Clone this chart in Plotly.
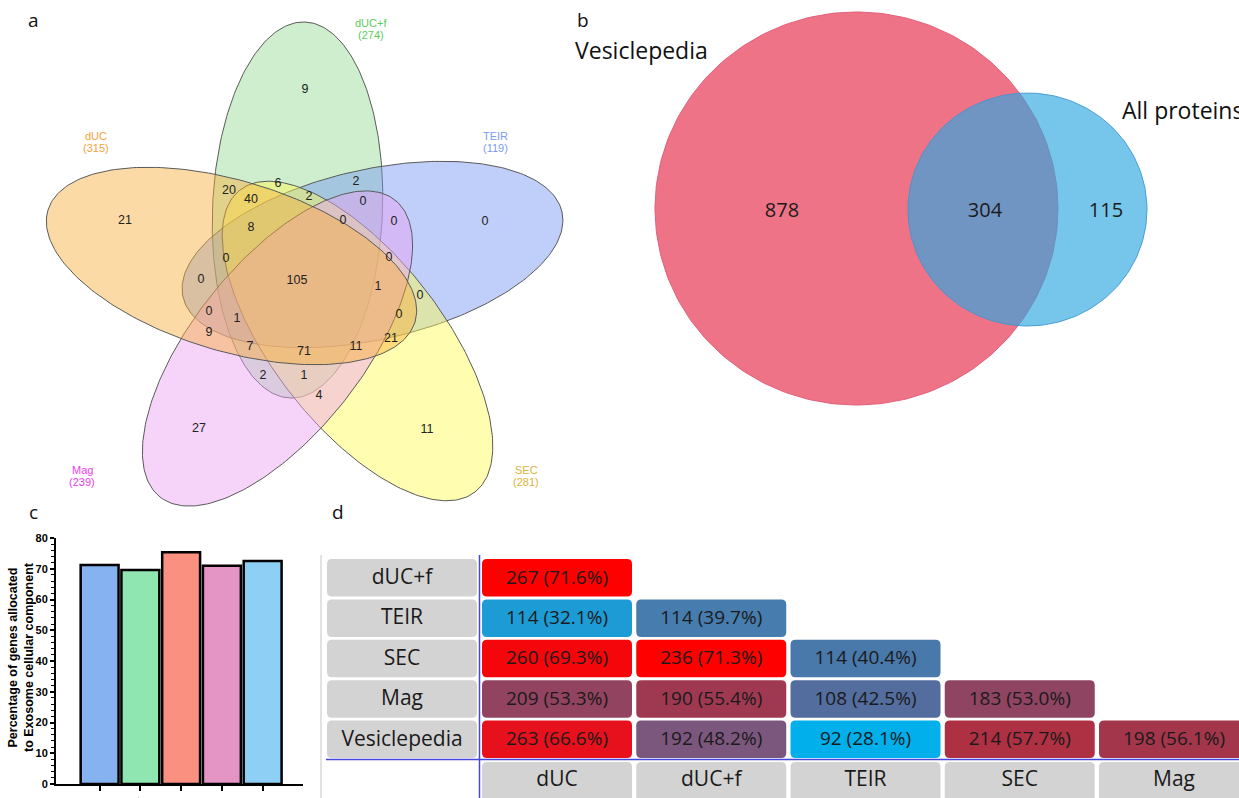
import numpy as np
import plotly.graph_objects as go
from plotly.colors import sample_colorscale

# ---------------- DATA ----------------
# Panel a: five-set Venn
venn_sets = ["dUC", "dUC+f", "TEIR", "SEC", "Mag"]
venn_totals = [315, 274, 119, 281, 239]
venn_region_counts = [9, 21, 0, 27, 11,
                      20, 6, 2, 40, 2, 0, 8, 0, 0, 0, 105, 0, 1, 0,
                      0, 0, 1, 0, 9, 7, 71, 11, 21, 2, 1, 4]

# Panel b: two-set Venn
b_sets = ["Vesiclepedia", "All proteins"]
b_counts = [878, 304, 115]   # only Vesiclepedia, both, only All proteins

# Panel c: bar chart
c_categories = ["dUC", "dUC+f", "TEIR", "SEC", "Mag"]
c_values = [71.2, 69.6, 75.4, 71.0, 72.5]

# Panel d: pairwise overlap table
d_rows = ["dUC+f", "TEIR", "SEC", "Mag", "Vesiclepedia"]
d_cols = ["dUC", "dUC+f", "TEIR", "SEC", "Mag"]
d_counts = [[267],
            [114, 114],
            [260, 236, 114],
            [209, 190, 108, 183],
            [263, 192, 92, 214, 198]]
d_pcts = [[71.6],
          [32.1, 39.7],
          [69.3, 71.3, 40.4],
          [53.3, 55.4, 42.5, 53.0],
          [66.6, 48.2, 28.1, 57.7, 56.1]]

# ---------------- STYLE / LAYOUT ----------------
W, H = 1239, 798
ARIAL = "Liberation Sans, Arial, sans-serif"
SANS = "Open Sans, Noto Sans, sans-serif"

# ellipse geometry (far tip, near tip) in pixel coords, semi-minor axis
venn_geom = {
    "dUC":   ((48, 210), (415, 322)),
    "dUC+f": ((305, 22), (290, 398)),
    "TEIR":  ((562, 212), (183, 297)),
    "SEC":   ((475, 492), (240, 190)),
    "Mag":   ((160, 497), (395, 200)),
}
venn_b = 85
venn_fill = {"dUC": "rgba(248,173,55,0.45)", "dUC+f": "rgba(146,217,146,0.45)",
             "TEIR": "rgba(115,148,244,0.45)", "SEC": "rgba(255,251,80,0.45)",
             "Mag": "rgba(235,160,244,0.45)"}
venn_label_color = {"dUC": "#f4a33a", "dUC+f": "#5ccc5c", "TEIR": "#7a9cf0",
                    "SEC": "#d9b33a", "Mag": "#ee3cee"}
venn_label_pos = {"dUC": (96, 136), "dUC+f": (371, 23), "TEIR": (495, 136),
                  "SEC": (526, 470), "Mag": (82, 470)}
venn_draw_order = ["dUC+f", "TEIR", "SEC", "Mag", "dUC"]
venn_region_pos = [(305, 90), (125, 221), (485, 222), (199, 429), (427, 430),
                   (229, 191), (278, 184), (356, 182), (251, 200), (309, 197), (363, 202),
                   (251, 228), (343, 221), (394, 222), (226, 259), (297, 281), (389, 258),
                   (378, 287), (420, 296),
                   (201, 280), (209, 312), (237, 319), (399, 315), (209, 333), (250, 347),
                   (304, 352), (356, 347), (391, 339), (263, 376), (304, 376), (319, 396)]


def ellipse_pts(far, near, b, n=260):
    (x1, y1), (x2, y2) = far, near
    cx, cy = (x1 + x2) / 2, (y1 + y2) / 2
    a = np.hypot(x1 - x2, y1 - y2) / 2
    ang = np.arctan2(y1 - y2, x1 - x2)
    t = np.linspace(0, 2 * np.pi, n)
    x = cx + a * np.cos(t) * np.cos(ang) - b * np.sin(t) * np.sin(ang)
    y = cy + a * np.cos(t) * np.sin(ang) + b * np.sin(t) * np.cos(ang)
    return x, y


def oval(cx, cy, rx, ry, n=260):
    t = np.linspace(0, 2 * np.pi, n)
    return cx + rx * np.cos(t), cy + ry * np.sin(t)


fig = go.Figure()

# ---- Panel a ----
for s in venn_draw_order:
    x, y = ellipse_pts(*venn_geom[s], venn_b)
    fig.add_trace(go.Scatter(x=x, y=y, mode="lines", fill="toself",
                             fillcolor=venn_fill[s], line=dict(color="#5a5a5a", width=1),
                             hoverinfo="skip", showlegend=False))

fig.add_trace(go.Scatter(x=[p[0] for p in venn_region_pos], y=[p[1] for p in venn_region_pos],
                         mode="text", text=[str(v) for v in venn_region_counts],
                         textfont=dict(family=ARIAL, size=12.5, color="#222222"),
                         hoverinfo="skip", showlegend=False))
for s, tot in zip(venn_sets, venn_totals):
    px, py = venn_label_pos[s]
    fig.add_annotation(x=px, y=py, text=s, showarrow=False, xref="x", yref="y",
                       font=dict(family=ARIAL, size=11, color=venn_label_color[s]))
    fig.add_annotation(x=px, y=py + 11.5, text=f"({tot})", showarrow=False, xref="x", yref="y",
                       font=dict(family=ARIAL, size=11, color=venn_label_color[s]))

# ---- Panel b ----
rx_, ry_ = oval(856.5, 208.5, 201.5, 196.5)
fig.add_trace(go.Scatter(x=rx_, y=ry_, mode="lines", fill="toself", fillcolor="#ef7386",
                         line=dict(color="#e0607a", width=1), hoverinfo="skip", showlegend=False))
bx_, by_ = oval(1027.5, 209.5, 119.5, 116.5)
fig.add_trace(go.Scatter(x=bx_, y=by_, mode="lines", fill="toself",
                         fillcolor="rgba(45,168,226,0.65)",
                         line=dict(color="rgba(60,150,210,0.9)", width=1),
                         hoverinfo="skip", showlegend=False))
fig.add_trace(go.Scatter(x=[782, 985, 1106], y=[212, 212, 212], mode="text",
                         text=[str(v) for v in b_counts],
                         textfont=dict(family=SANS, size=20, color="#1a1a1a"),
                         hoverinfo="skip", showlegend=False))
fig.add_annotation(x=573, y=50, text=b_sets[0], showarrow=False, xanchor="left", xref="x", yref="y",
                   font=dict(family=SANS, size=23, color="#111111"))
fig.add_annotation(x=1120, y=110, text=b_sets[1], showarrow=False, xanchor="left", xref="x", yref="y",
                   font=dict(family=SANS, size=23, color="#111111"))

# ---- Panel letters ----
for letter, (lx, ly) in {"a": (33, 20), "b": (583, 20), "c": (33, 512), "d": (338, 512)}.items():
    fig.add_annotation(x=lx, y=ly, text=letter, showarrow=False, xref="x", yref="y",
                       font=dict(family=SANS, size=19, color="#111111"))

# ---- Panel c ----
bar_colors = ["#86b3f0", "#8fe6b0", "#fa9080", "#e495c6", "#8ecff5"]
fig.add_trace(go.Bar(x=c_categories, y=c_values, xaxis="x2", yaxis="y2",
                     marker=dict(color=bar_colors, line=dict(color="black", width=2.5)),
                     width=0.93, hoverinfo="skip", showlegend=False))
fig.add_annotation(x=21, y=657, xref="x", yref="y", showarrow=False, textangle=-90,
                   text="Percentage of genes allocated<br>to Exosome cellular component",
                   font=dict(family=ARIAL, size=12.5, color="black", weight="bold"))

# ---- Panel d ----
dscale = [[0.0, "rgb(0,176,235)"], [0.09, "rgb(28,156,214)"], [0.27, "rgb(70,125,175)"],
          [0.33, "rgb(80,110,160)"], [0.45, "rgb(120,90,130)"], [0.57, "rgb(140,70,100)"],
          [0.675, "rgb(170,50,70)"], [0.877, "rgb(225,20,35)"], [1.0, "rgb(255,0,0)"]]
pmin, pmax = 28.0, 71.0


def rrect(x0, y0, x1, y1, r=5):
    return (f"M{x0+r},{y0} L{x1-r},{y0} Q{x1},{y0} {x1},{y0+r} L{x1},{y1-r} "
            f"Q{x1},{y1} {x1-r},{y1} L{x0+r},{y1} Q{x0},{y1} {x0},{y1-r} "
            f"L{x0},{y0+r} Q{x0},{y0} {x0+r},{y0} Z")


LAB_X0, LAB_X1 = 327, 477
COL_X0, COL_PITCH, CELL_W = 482, 154.25, 150
ROW_Y0, ROW_PITCH, CELL_H = 559, 40.4, 37.5
HEAD_Y0 = 762
GRAY = "#d3d3d3"

shapes = []
txt_x, txt_y, txt_s = [], [], []
lab_x, lab_y, lab_s = [], [], []
for i, rname in enumerate(d_rows):
    y0 = ROW_Y0 + i * ROW_PITCH
    shapes.append(dict(type="path", path=rrect(LAB_X0, y0, LAB_X1, y0 + CELL_H),
                       fillcolor=GRAY, line=dict(width=0), xref="x", yref="y", layer="below"))
    lab_x.append((LAB_X0 + LAB_X1) / 2); lab_y.append(y0 + CELL_H / 2 + 1); lab_s.append(rname)
    for j, (cnt, pct) in enumerate(zip(d_counts[i], d_pcts[i])):
        x0 = COL_X0 + j * COL_PITCH
        frac = min(max((pct - pmin) / (pmax - pmin), 0), 1)
        col = sample_colorscale(dscale, [frac])[0]
        shapes.append(dict(type="path", path=rrect(x0, y0, x0 + CELL_W, y0 + CELL_H),
                           fillcolor=col, line=dict(width=0), xref="x", yref="y", layer="below"))
        txt_x.append(x0 + CELL_W / 2); txt_y.append(y0 + CELL_H / 2 + 1)
        txt_s.append(f"{cnt} ({pct:.1f}%)")
for j, cname in enumerate(d_cols):
    x0 = COL_X0 + j * COL_PITCH
    shapes.append(dict(type="path", path=rrect(x0, HEAD_Y0, x0 + CELL_W, HEAD_Y0 + 40),
                       fillcolor=GRAY, line=dict(width=0), xref="x", yref="y", layer="below"))
    lab_x.append(x0 + CELL_W / 2); lab_y.append(HEAD_Y0 + 19); lab_s.append(cname)

# separator lines
shapes.append(dict(type="line", x0=321, x1=321, y0=555, y1=798, xref="x", yref="y",
                   line=dict(color="#e2e2e2", width=2), layer="below"))
shapes.append(dict(type="line", x0=479.5, x1=479.5, y0=555, y1=798, xref="x", yref="y",
                   line=dict(color="#4646e0", width=1.5)))
shapes.append(dict(type="line", x0=326, x1=1239, y0=759.5, y1=759.5, xref="x", yref="y",
                   line=dict(color="#4646e0", width=1.5)))

fig.add_trace(go.Scatter(x=txt_x, y=txt_y, mode="text", text=txt_s,
                         textfont=dict(family=SANS, size=19, color="#1a1a1a"),
                         hoverinfo="skip", showlegend=False))
fig.add_trace(go.Scatter(x=lab_x, y=lab_y, mode="text", text=lab_s,
                         textfont=dict(family=SANS, size=21, color="#1a1a1a"),
                         hoverinfo="skip", showlegend=False))

# ---------------- LAYOUT ----------------
ax_x0, ax_x1 = 56, 303
ax_y0, ax_y1 = 784, 538
fig.update_layout(
    template="none",
    width=W, height=H, autosize=False, margin=dict(l=0, r=0, t=0, b=0, pad=0),
    paper_bgcolor="white", plot_bgcolor="rgba(0,0,0,0)",
    shapes=shapes,
    xaxis=dict(range=[0, W], domain=[0, 1], visible=False, fixedrange=True, automargin=False),
    yaxis=dict(range=[H, 0], domain=[0, 1], visible=False, fixedrange=True, automargin=False),
    xaxis2=dict(domain=[ax_x0 / W, ax_x1 / W], anchor="y2", range=[-1.07, 4.99],
                showline=True, linecolor="black", linewidth=2, ticks="outside",
                ticklen=5, tickwidth=2, tickcolor="black", tickangle=-45,
                tickfont=dict(family=ARIAL, size=12, color="black", weight="bold"),
                showgrid=False, zeroline=False, automargin=False),
    yaxis2=dict(domain=[(H - ax_y0) / H, (H - ax_y1) / H], anchor="x2", range=[0, 80],
                showline=True, linecolor="black", linewidth=2, ticks="outside",
                ticklen=4, tickwidth=2, tickcolor="black", dtick=10,
                tickfont=dict(family=ARIAL, size=11, color="black", weight="bold"),
                minor=dict(dtick=2, ticks="outside", ticklen=3, tickwidth=1.2, tickcolor="black"),
                showgrid=False, zeroline=False, automargin=False),
    bargap=0.05,
)

fig.write_html("out.html", config={"displayModeBar": False},
               post_script="document.body.style.margin='0';document.body.style.overflow='hidden';")
